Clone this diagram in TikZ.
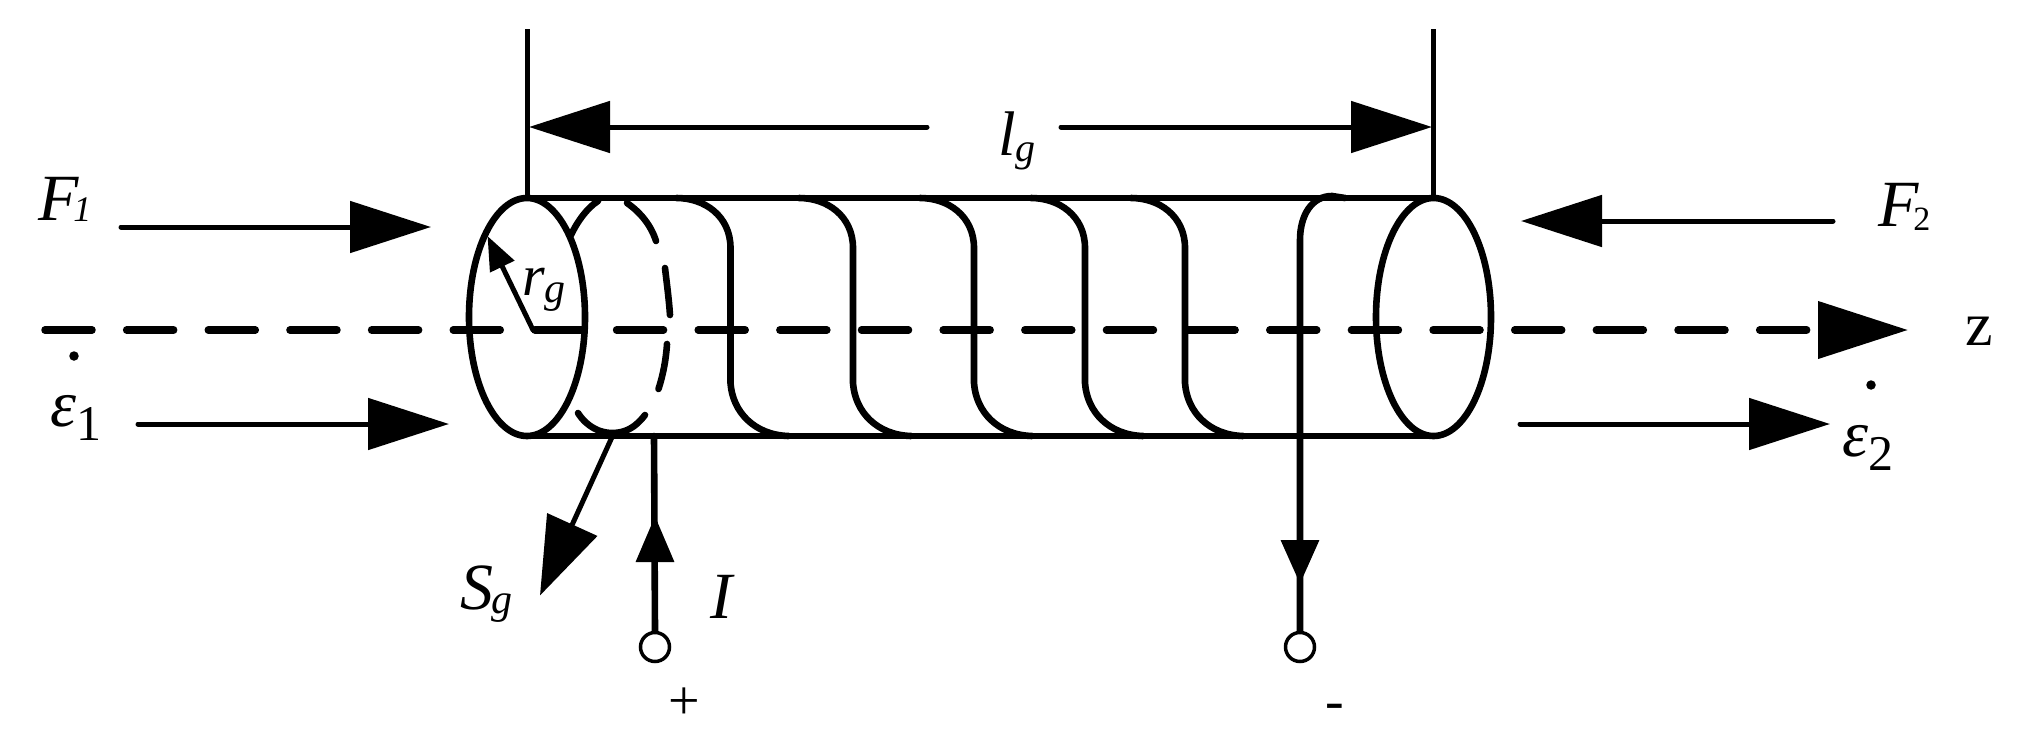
\documentclass[tikz,border=0pt]{standalone}
\usepackage{fontspec}
\setmainfont{Liberation Serif}
\usetikzlibrary{arrows.meta}
\newcommand{\fs}[1]{\fontsize{#1}{#1}\selectfont}
\newcommand{\subtxt}[4]{\kern#1pt\raisebox{#2pt}{\fs{#3}#4}}
\tikzset{
  wire/.style={line width=6.6pt,line cap=round,line join=round},
  axis line/.style={line width=7.5pt,line cap=round,line join=round},
  thin wire/.style={line width=5pt,line cap=round,line join=round},
  lab/.style={inner sep=0pt,outer sep=0pt,anchor=base west,font=\fs{66}\itshape},
  rom/.style={inner sep=0pt,outer sep=0pt,anchor=base,font=\fs{56}},
  bigarrow/.style={thin wire,-{Triangle[length=81pt,width=51pt]}},
  terminal/.style={circle,draw,line width=3.5pt,fill=white,minimum size=29pt,inner sep=0pt},
  dotmark/.style={circle,fill=black,minimum size=9.5pt,inner sep=0pt}
}
\begin{document}
\begin{tikzpicture}[x=1pt,y=-1pt]
\useasboundingbox (0,0) rectangle (2022,739);
% cylinder
\coordinate (TL) at (527,198); \coordinate (TR) at (1433.5,198);
\coordinate (BL) at (527,436); \coordinate (BR) at (1433.5,436);
\draw[wire] (TL) -- (TR);
\draw[wire] (BL) -- (BR);
\draw[wire] (527,317) ellipse [x radius=58,y radius=119];
\draw[wire] (1433.5,317) ellipse [x radius=57.5,y radius=119];
% axis
\coordinate (A0) at (45,330); \coordinate (A1) at (1908,330);
\draw[axis line,dash pattern=on 47pt off 34.65pt,-{Triangle[length=90pt,width=56pt]}] (A0) -- (A1);
% dashed back winding
\draw[wire] (571,235) .. controls (577,222) and (587,208) .. (598,201);
\draw[wire] (627,203) .. controls (640,212) and (651,225) .. (656,241);
\draw[wire] (665,268) .. controls (667,285) and (669,300) .. (670,315);
\draw[wire] (667,344) .. controls (666,360) and (663,375) .. (658.5,389);
\draw[wire] (645,415) .. controls (635,428) and (625,433) .. (612,433) .. controls (600,433) and (587,427) .. (578,413);
% coil
\foreach \v in {730.5,853,974,1085,1185}{
  \draw[wire] (\v-54,198) .. controls (\v-26,198) and (\v,216) .. (\v,248) -- (\v,383)
     .. controls (\v+2,412) and (\v+24,435) .. (\v+58,436);
}
% right lead
\coordinate (Lead) at (1300,240);
\coordinate (T2) at (1300,647);
\node[terminal] (t2) at (T2) {};
\draw[wire] (1345,198) -- (1332,196) .. controls (1312,196) and (1300,215) .. (Lead) -- (t2.north);
\coordinate (H2) at (1300,584);
\draw[wire,line cap=butt,-{Triangle[length=44pt,width=37pt]}] (Lead) -- (H2);
% left lead
\coordinate (T1) at (655,647);
\node[terminal] (t1) at (T1) {};
\coordinate (L1) at (654,436);
\draw[wire] (t1.north) -- (L1);
\coordinate (H1) at (655,516);
\draw[wire,line cap=butt,-{Triangle[length=46pt,width=37pt]}] (t1.north) -- (H1);
% r_g and S_g
\coordinate (R0) at (533,330); \coordinate (R1) at (487.5,236);
\draw[thin wire,-{Triangle[length=34pt,width=26pt]}] (R0) -- (R1);
\coordinate (S0) at (611.6,438); \coordinate (S1) at (540,595.5);
\draw[thin wire,-{Triangle[length=78pt,width=54pt]}] (S0) -- (S1);
% l_g dimension
\coordinate (DL) at (527,29); \coordinate (DR) at (1433.5,29);
\draw[thin wire,line cap=butt] (DL) -- (TL);
\draw[thin wire,line cap=butt] (DR) -- (TR);
\coordinate (D0) at (927,127); \coordinate (D1) at (529,127);
\coordinate (D2) at (1061,127); \coordinate (D3) at (1432,127);
\draw[bigarrow] (D0) -- (D1);
\draw[bigarrow] (D2) -- (D3);
% forces
\coordinate (F1a) at (121,227); \coordinate (F1b) at (431,227);
\draw[bigarrow] (F1a) -- (F1b);
\coordinate (E1a) at (138,424); \coordinate (E1b) at (449,424);
\draw[bigarrow] (E1a) -- (E1b);
\coordinate (F2a) at (1833,221); \coordinate (F2b) at (1521,221);
\draw[bigarrow] (F2a) -- (F2b);
\coordinate (E2a) at (1520,424); \coordinate (E2b) at (1830,424);
\draw[bigarrow] (E2a) -- (E2b);
% dots
\node[dotmark] (dot1) at (74,356) {};
\node[dotmark] (dot2) at (1871,385) {};
% labels
\node[lab] (lF1) at (38,220) {F\subtxt{-5}{-1}{36}{1}};
\node[lab] (lF2) at (1878,226) {F\subtxt{-5}{-4}{34}{\upshape 2}};
\node[lab] (lE1) at (50,426) {ε\subtxt{0}{-14}{50}{\upshape 1}};
\node[lab] (lE2) at (1842,456) {ε\subtxt{0}{-14}{50}{\upshape 2}};
\node[lab,font=\fs{58}\itshape] (lr) at (522,295) {r\subtxt{0}{-7}{42}{g}};
\node[lab] (lS) at (460,609) {S\subtxt{-2}{-4}{42}{g}};
\node[lab] (lI) at (710,618) {I};
\node[lab,font=\fs{63}\itshape] (ll) at (998,155) {l\subtxt{0}{-6}{40}{g}};
\node[rom,font=\fs{62}] (lz) at (1979,345) {z};
\node[rom] (lp) at (684,719) {+};
\node[rom] (lm) at (1335,719) {-};
\end{tikzpicture}
\end{document}
